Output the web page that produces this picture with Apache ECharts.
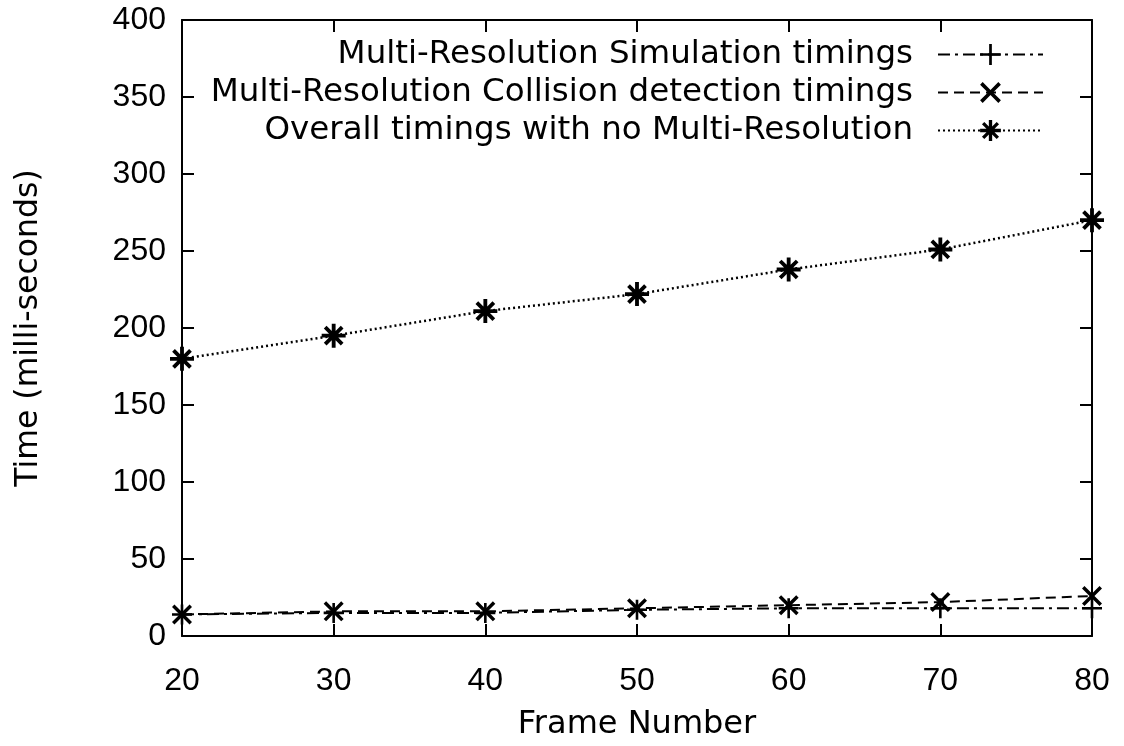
<!DOCTYPE html>
<html>
<head>
<meta charset="utf-8">
<script src="https://cdn.jsdelivr.net/npm/echarts@6/dist/echarts.min.js"></script>
<style>html,body{margin:0;padding:0;background:#fff;}#c{width:1124px;height:746px;}</style>
</head>
<body>
<div id="c"></div>
<script>
var frames = [20, 30, 40, 50, 60, 70, 80];
var simTimes = [14, 15, 15, 17, 18, 18, 18];
var collTimes = [14, 16, 16, 18, 20, 22, 26];
var overallTimes = [180, 195, 211, 222, 238, 251, 270];
var seriesNames = [
  'Multi-Resolution Simulation timings',
  'Multi-Resolution Collision detection timings',
  'Overall timings with no Multi-Resolution'
];

function rotPath(arms, R, h, rot) {
  var pts = [];
  var step = Math.PI * 2 / arms;
  var inner = h / Math.sin(step / 2);
  for (var k = 0; k < arms; k++) {
    var t = k * step + rot;
    var c = Math.cos(t), s = Math.sin(t);
    pts.push([R * c + h * s, R * s - h * c]);
    pts.push([R * c - h * s, R * s + h * c]);
    var ti = t + step / 2;
    pts.push([inner * Math.cos(ti), inner * Math.sin(ti)]);
  }
  return 'path://M' + pts.map(function (p) { return (p[0] + 20).toFixed(3) + ',' + (p[1] + 20).toFixed(3); }).join(' L') + ' Z';
}
var plusSym = rotPath(4, 20, 2.6, 0);
var crossSym = rotPath(4, 20, 2.8, Math.PI / 4);
var starSym = rotPath(8, 20, 3.2, 0);

function pairs(ys) { return frames.map(function (f, i) { return [f, ys[i]]; }); }

var FONT = 'DejaVu Sans';
var TICKFONT = 'Liberation Sans';
var chart = echarts.init(document.getElementById('c'), null, { renderer: 'canvas' });
var axisCommon = {
  axisLine: { show: true, onZero: false, lineStyle: { color: '#000', width: 2 } },
  axisTick: { show: true, inside: true, length: 12, lineStyle: { color: '#000', width: 2 } },
  splitLine: { show: false }
};
chart.setOption({
  animation: false,
  backgroundColor: '#fff',
  grid: { left: 182, right: 32, top: 20, bottom: 110, containLabel: false },
  legend: {
    orient: 'vertical',
    right: 75,
    top: 33,
    align: 'right',
    itemWidth: 105,
    itemHeight: 26,
    itemGap: 5,
    textStyle: { fontFamily: FONT, fontSize: 32.5, lineHeight: 30, color: '#000', padding: [0, 20, 0, 0] },
    data: seriesNames
  },
  xAxis: [
    Object.assign({
      type: 'value', min: 20, max: 80, interval: 10, position: 'bottom',
      name: 'Frame Number', nameLocation: 'middle', nameGap: 73,
      nameTextStyle: { fontFamily: FONT, fontSize: 32, color: '#000' },
      axisLabel: { fontFamily: TICKFONT, fontSize: 32, color: '#000', margin: 29 }
    }, axisCommon),
    Object.assign({
      type: 'value', min: 20, max: 80, interval: 10, position: 'top',
      axisLabel: { show: false }
    }, axisCommon)
  ],
  yAxis: [
    Object.assign({
      type: 'value', min: 0, max: 400, interval: 50, position: 'left',
      name: 'Time (milli-seconds)', nameLocation: 'middle', nameGap: 137, nameRotate: 90,
      nameTextStyle: { fontFamily: FONT, fontSize: 31.5, color: '#000' },
      axisLabel: { fontFamily: TICKFONT, fontSize: 32, color: '#000', margin: 16 }
    }, axisCommon),
    Object.assign({
      type: 'value', min: 0, max: 400, interval: 50, position: 'right',
      axisLabel: { show: false }
    }, axisCommon)
  ],
  series: [
    {
      name: seriesNames[0], type: 'line', data: pairs(simTimes),
      symbol: plusSym, symbolSize: 20, showAllSymbol: true,
      lineStyle: { color: '#000', width: 2, type: [12, 5, 3, 5] },
      itemStyle: { color: '#000' }, z: 3
    },
    {
      name: seriesNames[1], type: 'line', data: pairs(collTimes),
      symbol: crossSym, symbolSize: 20, showAllSymbol: true,
      lineStyle: { color: '#000', width: 2, type: [10, 6] },
      itemStyle: { color: '#000' }, z: 3
    },
    {
      name: seriesNames[2], type: 'line', data: pairs(overallTimes),
      symbol: starSym, symbolSize: 24, showAllSymbol: true,
      lineStyle: { color: '#000', width: 2.5, type: [2, 3] },
      itemStyle: { color: '#000' }, z: 3
    }
  ]
});
</script>
</body>
</html>
